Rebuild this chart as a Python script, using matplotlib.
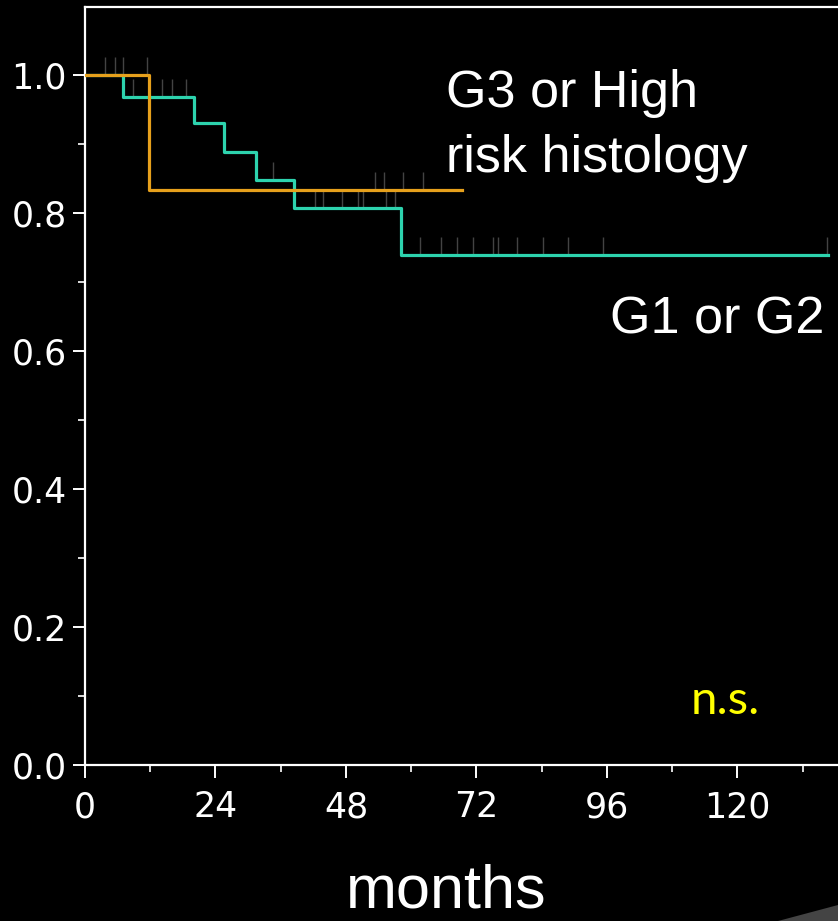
import numpy as np
import matplotlib
matplotlib.use("Agg")
import matplotlib.pyplot as plt
from matplotlib.ticker import MultipleLocator, FixedLocator
from matplotlib.patches import Polygon

# ---- data ----
g3_times = [0, 11.8, 69.3]
g3_surv = [1.0, 0.833, 0.833]
g3_censor = [3.7, 5.5, 7.0, 11.4, 53.3, 55.0, 58.5, 62.2]

g12_times = [0, 6.9, 20.1, 25.5, 31.4, 38.4, 58.2, 136.6]
g12_surv = [1.0, 0.968, 0.930, 0.889, 0.848, 0.807, 0.739, 0.739]
g12_censor = [8.8, 14.2, 16.0, 18.6, 34.6, 42.3, 43.8, 47.3, 50.2, 51.1,
              55.4, 57.0, 61.6, 65.5, 68.4, 71.4, 75.0, 76.0, 79.4, 84.2,
              88.8, 95.3, 136.5]

x_ticks = [0, 24, 48, 72, 96, 120]
y_ticks = [0.0, 0.2, 0.4, 0.6, 0.8, 1.0]
y_tick_labels = ["0.0", "0.2", "0.4", "0.6", "0.8", "1.0"]

label_g3 = ["G3 or High", "risk histology"]
label_g12 = "G1 or G2"
label_p = "n.s."
x_label = "months"

ORANGE = "#E6A01C"
TEAL = "#2DD3AE"

W, H = 838, 921
fig = plt.figure(figsize=(W / 100, H / 100), dpi=100, facecolor="black")
left, right_px, bottom_px, top_px = 85, 838, 765, 7
ax = fig.add_axes([left / W, 1 - bottom_px / H, (right_px - left) / W,
                   (bottom_px - top_px) / H])
ax.set_facecolor("black")
ax.set_xlim(0, 138.5)
ax.set_ylim(0, 1.0986)


def surv_at(times, surv, t):
    idx = np.searchsorted(times, t, side="right") - 1
    return np.asarray(surv)[idx]


ax.step(g12_times, g12_surv, where="post", color=TEAL, lw=2.3, zorder=3)
ax.step(g3_times, g3_surv, where="post", color=ORANGE, lw=2.3, zorder=4)

ax.plot(g3_censor, surv_at(g3_times, g3_surv, g3_censor), linestyle="none",
        marker=2, markersize=13, mew=1.0, color="#555555", alpha=0.8, zorder=2)
ax.plot(g12_censor, surv_at(g12_times, g12_surv, g12_censor), linestyle="none",
        marker=2, markersize=13, mew=1.0, color="#555555", alpha=0.8, zorder=2)

for s in ["left", "bottom", "top"]:
    ax.spines[s].set_color("white")
    ax.spines[s].set_linewidth(1.6)
ax.spines["right"].set_visible(False)

ax.xaxis.set_major_locator(FixedLocator(x_ticks))
ax.xaxis.set_minor_locator(MultipleLocator(12))
ax.yaxis.set_major_locator(FixedLocator(y_ticks))
ax.set_yticklabels(y_tick_labels)
ax.yaxis.set_minor_locator(MultipleLocator(0.1))

ax.tick_params(axis="both", which="major", colors="white", length=9, width=1.4,
               labelsize=25, direction="out")
ax.tick_params(axis="both", which="minor", colors="white", length=5, width=1.2,
               direction="out")
ax.tick_params(axis="x", which="major", pad=9)
ax.tick_params(axis="y", which="major", pad=4)
ax.tick_params(top=False, right=False, which="both")
for lab in ax.get_xticklabels() + ax.get_yticklabels():
    lab.set_family("DejaVu Sans")

tf = "Liberation Sans"
fig.text(446 / W, 1 - 107 / H, label_g3[0], color="white", fontsize=37.5,
         family=tf, ha="left", va="baseline")
fig.text(446 / W, 1 - 172 / H, label_g3[1], color="white", fontsize=37.5,
         family=tf, ha="left", va="baseline")
fig.text(824 / W, 1 - 334 / H, label_g12, color="white", fontsize=37.5,
         family=tf, ha="right", va="baseline")
fig.text(725 / W, 1 - 714 / H, label_p, color="#FFFF00", fontsize=34,
         family="Lato", ha="center", va="baseline")
fig.text(446 / W, 1 - 907 / H, x_label, color="white", fontsize=44,
         family=tf, ha="center", va="baseline")

# decorative swoosh at bottom-right
fig.patches.append(Polygon([(778 / W, 0), (838 / W, 0), (838 / W, 1 - 905 / H)],
                           closed=True, transform=fig.transFigure,
                           facecolor="#444444", edgecolor="none"))

fig.savefig("out.png", dpi=100, facecolor="black")
